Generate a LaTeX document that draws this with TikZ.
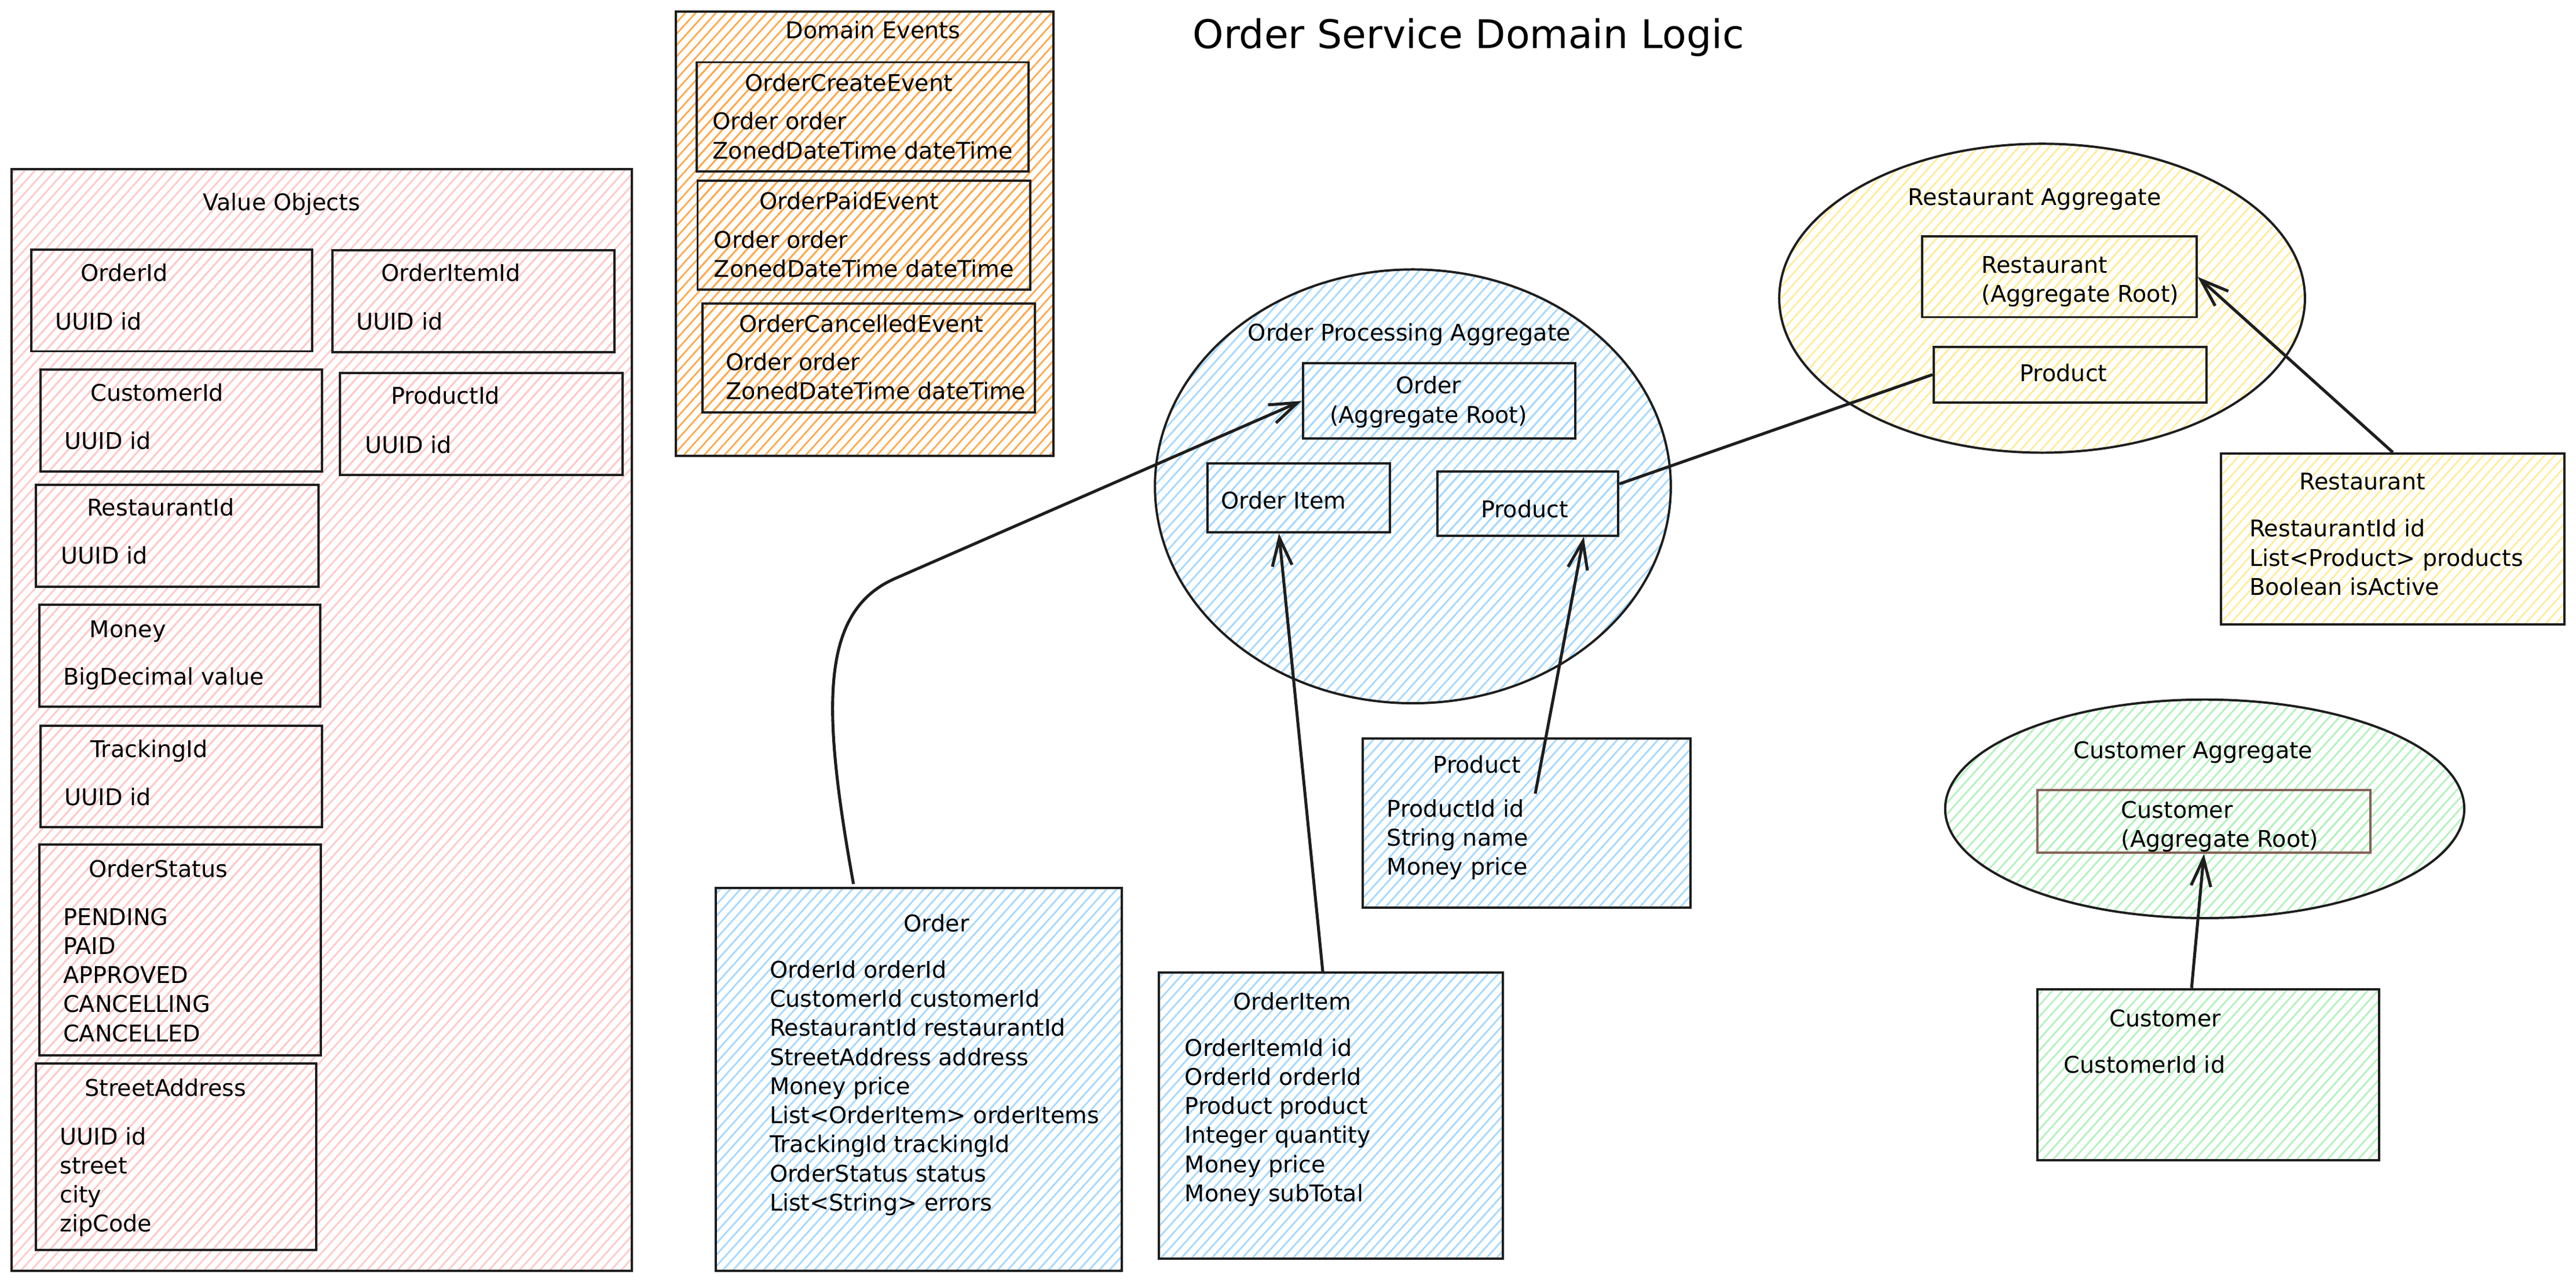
\documentclass[tikz,border=0pt]{standalone}
\usepackage{fontspec}
\setmainfont{DejaVu Sans}
\usetikzlibrary{shapes.geometric, patterns.meta, arrows.meta}
\definecolor{ink}{HTML}{1E1E1E}
\definecolor{hatchred}{HTML}{FFC9C9}
\definecolor{hatchorange}{HTML}{FFA94D}
\definecolor{hatchblue}{HTML}{A5D8FF}
\definecolor{hatchyellow}{HTML}{FFEC99}
\definecolor{hatchgreen}{HTML}{B2F2BB}
\definecolor{rootbrown}{HTML}{846358}
\newcommand{\bodysize}{\fontsize{14}{17.7}\selectfont}

\begin{document}
\begin{tikzpicture}[x=1pt, y=-1pt,
                    box/.style={draw=ink, line width=1.4pt, inner sep=0},
                    hatch/.style={pattern={Lines[angle=48,distance=4.6pt,line width=1pt]}, pattern color=#1},
                    vobox/.style={box, hatch=hatchred},
                    debox/.style={box, hatch=hatchorange},
                    opbox/.style={box, hatch=hatchblue},
                    rabox/.style={box, hatch=hatchyellow},
                    cabox/.style={box, hatch=hatchgreen},
                    agg/.style={ellipse, draw=ink, line width=1.4pt, inner sep=0},
                    txt/.style={inner sep=0, font=\bodysize, anchor=base west},
                    ctxt/.style={inner sep=0, font=\bodysize, anchor=base},
                    fields/.style={inner sep=0, font=\bodysize, align=left, anchor=north west},
                    link/.style={draw=ink, line width=1.8pt, -{Straight Barb[length=17pt,width=12pt]}},
                    plain/.style={draw=ink, line width=1.8pt}]
                \fill[white] (0,0) rectangle (1568,780.5);
                \useasboundingbox (0,0) rectangle (1568,780.5);

                \node (title) [inner sep=0, anchor=base, font=\fontsize{24}{29}\selectfont] at (893.8,29.5) {Order Service Domain Logic};

                \node (vo) [vobox, minimum width=377.5, minimum height=670.3] at (195.75,438.15) {};
                \node (voT) [ctxt] at (171.4,128) {Value Objects};
                \node (oid) [vobox, minimum width=171, minimum height=62] at (104.5,182.8) {};
                \node (oidT) [txt] at (49,171) {OrderId};
                \node (oidF) [txt] at (33.4,200.8) {UUID id};
                \node (oiid) [vobox, minimum width=171.7, minimum height=62.3] at (288.2,183.3) {};
                \node (oiidT) [txt] at (232,171.2) {OrderItemId};
                \node (oiidF) [txt] at (216.6,200.8) {UUID id};
                \node (cid) [vobox, minimum width=171.2, minimum height=62] at (110.3,256) {};
                \node (cidT) [txt] at (54.9,244.2) {CustomerId};
                \node (cidF) [txt] at (39.1,273.4) {UUID id};
                \node (pid) [vobox, minimum width=172, minimum height=62] at (293,258) {};
                \node (pidT) [txt] at (237.9,246) {ProductId};
                \node (pidF) [txt] at (222,275.7) {UUID id};
                \node (rid) [vobox, minimum width=172, minimum height=62] at (108,326) {};
                \node (ridT) [txt] at (52.7,314) {RestaurantId};
                \node (ridF) [txt] at (37.1,343) {UUID id};
                \node (money) [vobox, minimum width=171, minimum height=62] at (109.5,399) {};
                \node (moneyT) [txt] at (54.4,388) {Money};
                \node (moneyF) [txt] at (38.3,416.7) {BigDecimal value};
                \node (tid) [vobox, minimum width=171.2, minimum height=61.7] at (110.3,472.6) {};
                \node (tidT) [txt] at (54.9,460.8) {TrackingId};
                \node (tidF) [txt] at (39,490) {UUID id};
                \node (ostat) [vobox, minimum width=171.4, minimum height=128.3] at (109.7,578) {};
                \node (ostatT) [txt] at (53.9,534) {OrderStatus};
                \node (ostatF) [fields] at (38.3,552.5) {PENDING\\PAID\\APPROVED\\CANCELLING\\CANCELLED};
                \node (saddr) [vobox, minimum width=170.6, minimum height=113.7] at (107.1,703.9) {};
                \node (saddrT) [txt] at (51.4,667.1) {StreetAddress};
                \node (saddrF) [fields] at (36.3,685.8) {UUID id\\street\\city\\zipCode};

                \node (de) [debox, minimum width=229.8, minimum height=270.1] at (526.3,142.25) {};
                \node (deT) [ctxt] at (531.4,23.5) {Domain Events};
                \node (oce) [debox, minimum width=202, minimum height=66.4] at (525.2,71.1) {};
                \node (oceT) [ctxt] at (516.7,55.4) {OrderCreateEvent};
                \node (oceF) [fields] at (433.6,68.1) {Order order\\ZonedDateTime dateTime};
                \node (ope) [debox, minimum width=202.5, minimum height=66.2] at (525.85,143.2) {};
                \node (opeT) [ctxt] at (516.9,127.3) {OrderPaidEvent};
                \node (opeF) [fields] at (434.4,140.1) {Order order\\ZonedDateTime dateTime};
                \node (occ) [debox, minimum width=202.5, minimum height=66.2] at (528.85,217.8) {};
                \node (occT) [ctxt] at (524.2,202) {OrderCancelledEvent};
                \node (occF) [fields] at (441.7,214.7) {Order order\\ZonedDateTime dateTime};

                \node (opagg) [agg, hatch=hatchblue, minimum width=314, minimum height=264] at (860,296) {};
                \node (opaggT) [ctxt] at (857.8,207.4) {Order Processing Aggregate};
                \node (orderroot) [opbox, minimum width=166, minimum height=46] at (876,244) {};
                \node (orderrootT) [inner sep=0, font=\bodysize, align=center] at (869.5,244.7) {Order\\(Aggregate Root)};
                \node (oitem) [opbox, minimum width=111, minimum height=42] at (790.5,303) {};
                \node (oitemT) [txt] at (743,309.7) {Order Item};
                \node (oprod) [opbox, minimum width=110, minimum height=39] at (930,306.5) {};
                \node (oprodT) [ctxt] at (928,315) {Product};

                \node (orderent) [opbox, minimum width=247.1, minimum height=233] at (559.15,656.8) {};
                \node (orderentT) [ctxt] at (570,567) {Order};
                \node (orderentF) [fields] at (468.3,584.4) {OrderId orderId\\CustomerId customerId\\RestaurantId restaurantId\\StreetAddress address\\Money price\\List<OrderItem> orderItems\\TrackingId trackingId\\OrderStatus status\\List<String> errors};
                \node (orderitement) [opbox, minimum width=209.3, minimum height=174] at (810.15,679) {};
                \node (orderitementT) [ctxt] at (786.5,614.7) {OrderItem};
                \node (orderitementF) [fields] at (721,631.9) {OrderItemId id\\OrderId orderId\\Product product\\Integer quantity\\Money price\\Money subTotal};
                \node (prodent) [opbox, minimum width=199.5, minimum height=103] at (929.25,500.8) {};
                \node (prodentT) [ctxt] at (899,470.6) {Product};
                \node (prodentF) [fields] at (844,486.4) {ProductId id\\String name\\Money price};

                \node (ragg) [agg, hatch=hatchyellow, minimum width=320, minimum height=188] at (1243,181.5) {};
                \node (raggT) [ctxt] at (1238.5,125) {Restaurant Aggregate};
                \node (restroot) [rabox, minimum width=167, minimum height=49] at (1253.5,168.5) {};
                \node (restrootT) [fields] at (1206,155.9) {Restaurant\\(Aggregate Root)};
                \node (rprod) [rabox, minimum width=166, minimum height=34] at (1260,228) {};
                \node (rprodT) [ctxt] at (1256,232) {Product};
                \node (restent) [rabox, minimum width=209, minimum height=104] at (1456.5,328) {};
                \node (restentT) [ctxt] at (1438,298) {Restaurant};
                \node (restentF) [fields] at (1369,315.9) {RestaurantId id\\List<Product> products\\Boolean isActive};

                \node (cagg) [agg, hatch=hatchgreen, minimum width=316, minimum height=133] at (1342,492.25) {};
                \node (caggT) [ctxt] at (1335,461.5) {Customer Aggregate};
                \node (custroot) [cabox, draw=rootbrown, minimum width=203, minimum height=38] at (1341.5,500) {};
                \node (custrootT) [fields] at (1291,487.4) {Customer\\(Aggregate Root)};
                \node (custent) [cabox, minimum width=208, minimum height=104] at (1344,654) {};
                \node (custentT) [ctxt] at (1318,625) {Customer};
                \node (custentF) [txt] at (1256,653) {CustomerId id};

                \coordinate (ordtail) at (519.5,538);
                \coordinate (prodtail) at (934.5,483);
                \draw [link] (ordtail) .. controls (500,430) and (499,372) .. (545,352) -- (orderroot.west);
                \draw [link] ([xshift=-5pt]orderitement.north) -- ([xshift=-12pt]oitem.south);
                \draw [link] (prodtail) -- ([xshift=34pt]oprod.south);
                \draw [plain] (rprod.west) -- ([yshift=12pt]oprod.east);
                \draw [link] (restent.north) -- (restroot.east);
                \draw [link] ([xshift=-10pt]custent.north) -- (custroot.south);
            \end{tikzpicture}
\end{document}
